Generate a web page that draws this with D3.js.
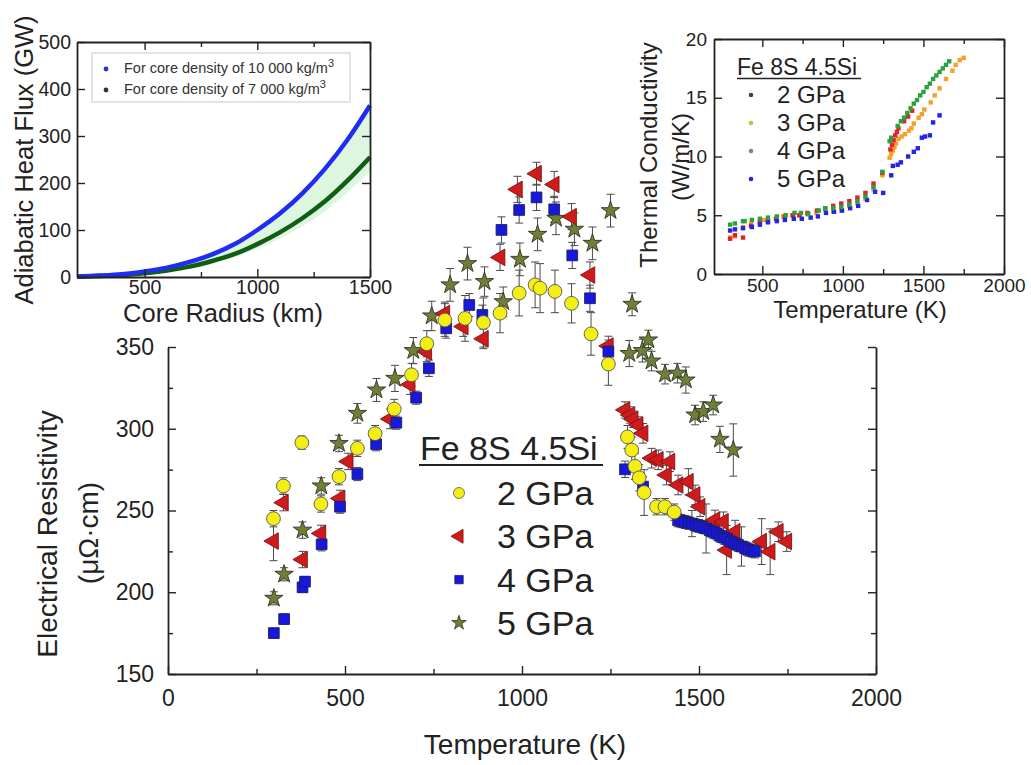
<!DOCTYPE html>
<html>
<head>
<meta charset="utf-8">
<script src="https://cdn.jsdelivr.net/npm/d3@7"></script>
<style>
  body { margin: 0; background: #fff; }
  svg { display: block; font-family: Arial, "Liberation Sans", sans-serif; }
</style>
</head>
<body>
<svg id="chart" width="1031" height="765"></svg>
<script>
// ---------- Electrical resistivity (main panel) ----------
const pressures = ["2 GPa", "3 GPa", "4 GPa", "5 GPa"];

const t2   = [298,326,378,432,483,535,585,639,688,731,782,839,891,938,992,1037,1051,1093,1140,1195,1244,1298,1310,1319,1331,1345,1380,1404,1430];
const rho2 = [245,265,291.5,254,270.7,288,297,312,333,352,366.5,367.5,365,370.7,383,388,386,384,376.7,358,339.6,295,287,277,270,261,252.3,252.3,249];
const err2 = [5,5,4,5,5,5,5,6,7,8,10,14,15,12,14,14,15,13,12,13,13,7,8,8,8,14,5,5,5];

const t3   = [298,326,380,432,486,509,627,684,731,782,834,891,938,987,1041,1091,1140,1192,1244,1291,1305,1314,1328,1342,1366,1385,1408,1418,1441,1470,1489,1503,1545,1569,1578,1602,1677,1701,1724,1748];
const rho3 = [231.3,254.8,220,236,257.4,280,306,327,347,370.5,362.5,355,404.8,446.4,456,449.4,429.7,394,350.6,311.5,308.4,305.8,302.3,297.2,282,281,271.7,279.9,265.6,267.6,259.5,252.3,244.2,243.1,225.8,237,231,224.8,237,231];
const err3 = [12,5,5,5,5,5,6,6,6,7,6,6,8,8,7,8,8,8,6,5,5,5,5,6,6,6,6,6,6,8,6,6,6,6,15,7,14,14,6,6];

const t4   = [299,328,380,387,434,486,535,588,645,701,737,786,851,888,942,992,1041,1091,1142,1192,1244,1291,1342,1441,1450,1460,1470,1480,1490,1500,1510,1520,1530,1540,1550,1560,1570,1580,1590,1600,1610,1620,1630,1640,1650,1658];
const rho4 = [175,183.6,203,206.5,229.3,252.3,272.3,290.5,303.7,319,337,361.4,375.7,369.6,421.6,433.8,441.5,434.2,406,379.8,347.2,275.2,264.6,244,243.5,243,242.5,242,241,240.5,240,239,238,237,236,234.5,233.5,232.5,231,230,229,228,227,226,225.5,225];
const err4 = [3,3,3,3,4,4,4,4,4,4,5,6,7,6,8,8,8,8,8,8,7,5,6,4,4,4,4,8,4,4,4,15,4,4,4,4,4,4,4,4,4,12,4,4,4,4];

const t5   = [299,328,380,433,483,535,589,641,693,745,797,846,894,947,994,1044,1096,1148,1199,1250,1303,1311,1340,1357,1366,1404,1439,1463,1489,1512,1540,1559,1597];
const rho5 = [196.3,211,238,265,291,309.4,323.7,330.8,347.8,369,388,401,390,377.7,403.6,418.9,428.7,422,413.4,433.4,346,376.1,347.8,354.3,341.4,333.4,334,329.8,308.4,310.5,314.5,293.5,287];
const err5 = [4,4,5,5,5,6,7,8,8,9,10,10,9,9,10,10,10,10,10,10,8,7,7,6,6,6,6,8,6,6,6,8,16];

const mainXTicks = [0, 500, 1000, 1500, 2000];
const mainXMinor = [250, 750, 1250, 1750];
const mainYTicks = [150, 200, 250, 300, 350];
const mainYMinor = [175, 225, 275, 325];

// ---------- Thermal conductivity (upper right panel) ----------
const kT2 = [300,330,380,430,485,535,585,640,690,730,780,840,890,940,990,1040,1090,1140,1190,1245,1295,1305,1315,1325,1335,1345,1380,1405,1430];
const kV2 = [3.0,3.3,3.1,4.1,4.4,4.5,4.7,4.9,5.0,5.0,5.2,5.4,5.6,5.8,6.0,6.2,6.5,6.9,7.7,8.6,10.6,11.0,11.4,11.8,12.1,12.4,13.0,13.4,13.9];
const kT3 = [300,330,380,430,485,510,630,685,730,780,835,890,940,990,1040,1090,1140,1190,1245,1290,1300,1310,1320,1330,1345,1365,1385,1410,1425,1440,1470,1490,1505,1545,1570,1600,1640,1680,1700,1725,1750];
const kV3 = [3.1,3.2,4.0,4.3,4.5,4.6,4.9,5.0,5.0,5.1,5.2,5.5,5.3,5.4,5.8,6.0,6.4,7.2,8.4,9.9,10.2,10.5,10.8,11.1,11.5,11.7,11.9,12.2,12.4,12.8,13.3,13.6,14.0,14.6,15.2,15.8,16.6,17.3,17.8,18.2,18.4];
const kT4 = [300,330,380,390,435,485,535,590,645,700,740,785,850,890,940,990,1040,1090,1140,1190,1245,1290,1300,1340,1360,1380,1400,1420,1440,1460,1480,1500,1520,1540,1560,1580,1600,1620,1640,1660];
const kV4 = [4.2,4.3,4.5,4.5,4.6,4.7,4.8,4.9,5.0,5.2,5.2,5.1,5.4,5.6,5.6,5.7,5.9,6.2,6.6,7.4,8.7,11.3,11.6,12.6,13.0,13.3,13.7,14.1,14.5,14.8,15.2,15.5,15.9,16.2,16.6,16.9,17.2,17.5,17.8,18.1];
const kT5 = [300,330,380,435,485,535,590,640,695,745,800,845,895,945,995,1045,1095,1150,1200,1250,1300,1310,1340,1360,1405,1440,1465,1490,1510,1540,1560,1600];
const kV5 = [3.7,3.8,3.9,4.0,4.2,4.4,4.5,4.6,4.7,4.7,4.8,4.9,5.2,5.3,5.4,5.6,5.8,6.3,7.0,6.9,8.4,9.2,9.3,9.5,10.0,10.4,10.7,11.6,11.7,11.8,12.9,13.5];

const kXTicks = [500, 1000, 1500, 2000];
const kXMinor = [750, 1250, 1750];
const kYTicks = [0, 5, 10, 15, 20];

// ---------- Adiabatic heat flux (upper left panel) ----------
const radius    = [200,300,400,500,600,700,800,900,1000,1100,1200,1300,1400,1500];
const flux10000 = [1,3,6,12,20,32,48,70,100,135,178,230,292,365];
const flux7000  = [1,2,4,8,14,22,34,49,70,95,125,161,205,255];
const bandLow   = [0,1,3,7,12,19,29,42,60,82,108,140,180,225];
const bandHigh  = [1,3,6,12,20,31,47,68,97,131,173,224,285,358];

const hXTicks = [500, 1000, 1500];
const hXMinor = [750, 1250];
const hYTicks = [0, 100, 200, 300, 400, 500];

// ---------------------------------------------------------
const svg = d3.select("#chart");
const ink = "#222";

function styleAxis(g, fs) {
  g.selectAll(".domain").attr("stroke", ink).attr("stroke-width", 1.8);
  g.selectAll(".tick line").attr("stroke", ink).attr("stroke-width", 1.4);
  g.selectAll(".tick text").attr("fill", ink).attr("font-size", fs).attr("font-family", "Arial, 'Liberation Sans', sans-serif");
}

function frame(x, y, opts) {
  const { xt, xm, yt, ym, fs, padX, padY, top } = opts;
  const [x0, x1] = x.range();
  const [y0, y1] = y.range();
  const gx = svg.append("g").attr("transform", `translate(0,${y0})`)
    .call(d3.axisBottom(x).tickValues(xt).tickSize(-8).tickSizeOuter(0).tickPadding(padX).tickFormat(d3.format("d")));
  styleAxis(gx, fs);
  const gxm = svg.append("g").attr("transform", `translate(0,${y0})`)
    .call(d3.axisBottom(x).tickValues(xm).tickSize(-5).tickFormat(""));
  gxm.select(".domain").remove(); styleAxis(gxm, fs);

  const gy = svg.append("g").attr("transform", `translate(${x0},0)`)
    .call(d3.axisLeft(y).tickValues(yt).tickSize(-8).tickSizeOuter(0).tickPadding(padY).tickFormat(d3.format("d")));
  styleAxis(gy, fs);
  if (ym) {
    const gym = svg.append("g").attr("transform", `translate(${x0},0)`)
      .call(d3.axisLeft(y).tickValues(ym).tickSize(-5).tickFormat(""));
    gym.select(".domain").remove(); styleAxis(gym, fs);
  }
  const gr = svg.append("g").attr("transform", `translate(${x1},0)`)
    .call(d3.axisRight(y).tickValues(yt).tickSize(-8).tickSizeOuter(0).tickFormat(""));
  styleAxis(gr, fs);
  if (ym) {
    const grm = svg.append("g").attr("transform", `translate(${x1},0)`)
      .call(d3.axisRight(y).tickValues(ym).tickSize(-5).tickFormat(""));
    grm.select(".domain").remove(); styleAxis(grm, fs);
  }
  if (top) {
    const gt = svg.append("g").attr("transform", `translate(0,${y1})`)
      .call(d3.axisTop(x).tickValues(xt).tickSize(-8).tickSizeOuter(0).tickFormat(""));
    styleAxis(gt, fs);
    const gtm = svg.append("g").attr("transform", `translate(0,${y1})`)
      .call(d3.axisTop(x).tickValues(xm).tickSize(-5).tickFormat(""));
    gtm.select(".domain").remove(); styleAxis(gtm, fs);
  }
}

// ===== Heat flux panel =====
const hx = d3.scaleLinear().domain([200, 1500]).range([77, 370]);
const hy = d3.scaleLinear().domain([0, 500]).range([277, 42]);

const hBand = radius.map((r, i) => ({ r, lo: bandLow[i], hi: bandHigh[i] }));
svg.append("path").datum(hBand)
  .attr("fill", "#a6e8ae").attr("fill-opacity", 0.38)
  .attr("d", d3.area().x(d => hx(d.r)).y0(d => hy(d.lo)).y1(d => hy(d.hi)).curve(d3.curveMonotoneX));

const lineH = d3.line().x(d => hx(d[0])).y(d => hy(d[1])).curve(d3.curveMonotoneX);
svg.append("path").datum(radius.map((r, i) => [r, flux7000[i]]))
  .attr("fill", "none").attr("stroke", "#0f5e12").attr("stroke-width", 4.5).attr("d", lineH);
svg.append("path").datum(radius.map((r, i) => [r, flux10000[i]]))
  .attr("fill", "none").attr("stroke", "#1f2cf2").attr("stroke-width", 4.5).attr("d", lineH);

frame(hx, hy, { xt: hXTicks, xm: hXMinor, yt: hYTicks, ym: null, fs: 19.5, padX: 3, padY: 6, top: true });

// legend box
const hLeg = svg.append("g");
hLeg.append("rect").attr("x", 92).attr("y", 53).attr("width", 258).attr("height", 49)
  .attr("fill", "#fff").attr("stroke", "#c8c8c8").attr("stroke-width", 1);
[["For core density of 10 000 kg/m", "#2430e0", 73], ["For core density of 7 000 kg/m", "#2a3a2a", 94]].forEach(([txt, col, yb]) => {
  hLeg.append("circle").attr("cx", 106).attr("cy", yb - 4).attr("r", 2.4).attr("fill", col);
  const t = hLeg.append("text").attr("x", 124).attr("y", yb).attr("font-size", 14.5).attr("fill", "#333").text(txt);
  t.append("tspan").attr("dy", -6).attr("font-size", 11).text("3");
});

svg.append("text").attr("transform", "translate(33,160) rotate(-90)")
  .attr("text-anchor", "middle").attr("font-size", 25.5).attr("fill", ink).text("Adiabatic Heat Flux (GW)");
svg.append("text").attr("x", 223).attr("y", 322)
  .attr("text-anchor", "middle").attr("font-size", 25.5).attr("fill", ink).text("Core Radius (km)");

// ===== Thermal conductivity panel =====
const tx = d3.scaleLinear().domain([200, 2000]).range([714, 1004]);
const ty = d3.scaleLinear().domain([0, 20]).range([274, 39]);

frame(tx, ty, { xt: kXTicks, xm: kXMinor, yt: kYTicks, ym: null, fs: 19, padX: 5, padY: 7, top: true });

const kSeries = [
  { T: kT3, V: kV3, c: "#f5a028" },
  { T: kT2, V: kV2, c: "#e2222a" },
  { T: kT5, V: kV5, c: "#2424e6" },
  { T: kT4, V: kV4, c: "#2aa040" }
];
kSeries.forEach(s => {
  svg.append("g").selectAll("rect").data(s.T.map((t, i) => [t, s.V[i]])).join("rect")
    .attr("x", d => tx(d[0]) - 2.2).attr("y", d => ty(d[1]) - 2.2)
    .attr("width", 4.4).attr("height", 4.4).attr("fill", s.c);
});

const kLeg = svg.append("g");
kLeg.append("text").attr("x", 737).attr("y", 75).attr("font-size", 23).attr("fill", ink).text("Fe 8S 4.5Si");
kLeg.append("line").attr("x1", 737).attr("x2", 861).attr("y1", 78.5).attr("y2", 78.5).attr("stroke", ink).attr("stroke-width", 1.5);
const kLegCols = ["#4a3e38", "#c7c040", "#7d8a76", "#2424d8"];
pressures.forEach((p, i) => {
  const yb = 103 + i * 28;
  kLeg.append("circle").attr("cx", 751).attr("cy", yb - 8).attr("r", 2.3).attr("fill", kLegCols[i]);
  kLeg.append("text").attr("x", 777).attr("y", yb).attr("font-size", 24).attr("fill", ink).text(p);
});

svg.append("text").attr("transform", "translate(657,155) rotate(-90)")
  .attr("text-anchor", "middle").attr("font-size", 24).attr("fill", ink).text("Thermal Conductivity");
svg.append("text").attr("transform", "translate(689,157) rotate(-90)")
  .attr("text-anchor", "middle").attr("font-size", 24).attr("fill", ink).text("(W/m/K)");
svg.append("text").attr("x", 860).attr("y", 318)
  .attr("text-anchor", "middle").attr("font-size", 24).attr("fill", ink).text("Temperature (K)");

// ===== Main resistivity panel =====
const mx = d3.scaleLinear().domain([0, 2000]).range([168, 876]);
const my = d3.scaleLinear().domain([150, 350]).range([674, 347]);

frame(mx, my, { xt: mainXTicks, xm: mainXMinor, yt: mainYTicks, ym: mainYMinor, fs: 23, padX: 16, padY: 14, top: false });

const sym = {
  circle:   { path: d3.symbol(d3.symbolCircle, 150)(),  rot: 0,   fill: "#f3ee14", stroke: "#555" },
  triangle: { path: d3.symbol(d3.symbolTriangle, 120)(), rot: -90, fill: "#cf1b1b", stroke: "#7a1414" },
  square:   { path: d3.symbol(d3.symbolSquare, 115)(),  rot: 0,   fill: "#1818dc", stroke: "#1c1c66" },
  star:     { path: d3.symbol(d3.symbolStar, 105)(),    rot: 0,   fill: "#6f7f38", stroke: "#2e3320" }
};

const mainSeries = [
  { T: t5, R: rho5, E: err5, s: sym.star },
  { T: t3, R: rho3, E: err3, s: sym.triangle },
  { T: t4, R: rho4, E: err4, s: sym.square },
  { T: t2, R: rho2, E: err2, s: sym.circle }
];

// error bars first, markers on top
const eg = svg.append("g").attr("stroke", "#4a4a4a").attr("stroke-width", 1);
mainSeries.forEach(s => {
  s.T.forEach((t, i) => {
    const x = mx(t), yl = my(s.R[i] - s.E[i]), yh = my(s.R[i] + s.E[i]);
    eg.append("line").attr("x1", x).attr("x2", x).attr("y1", yl).attr("y2", yh);
    eg.append("line").attr("x1", x - 4).attr("x2", x + 4).attr("y1", yl).attr("y2", yl);
    eg.append("line").attr("x1", x - 4).attr("x2", x + 4).attr("y1", yh).attr("y2", yh);
  });
});
mainSeries.forEach(s => {
  svg.append("g").selectAll("path").data(s.T.map((t, i) => [t, s.R[i]])).join("path")
    .attr("d", s.s.path)
    .attr("transform", d => `translate(${mx(d[0])},${my(d[1])}) rotate(${s.s.rot})`)
    .attr("fill", s.s.fill).attr("stroke", s.s.stroke).attr("stroke-width", 0.9);
});

// legend
const mLeg = svg.append("g");
mLeg.append("text").attr("x", 420).attr("y", 460).attr("font-size", 34).attr("fill", ink).text("Fe 8S 4.5Si");
mLeg.append("line").attr("x1", 419).attr("x2", 603).attr("y1", 465).attr("y2", 465).attr("stroke", ink).attr("stroke-width", 2);
const legSizes = [95, 85, 70, 65];
const legShapes = [d3.symbolCircle, d3.symbolTriangle, d3.symbolSquare, d3.symbolStar];
const legStyles = [sym.circle, sym.triangle, sym.square, sym.star];
pressures.forEach((p, i) => {
  const yb = 505 + i * 43.3;
  mLeg.append("path").attr("d", d3.symbol(legShapes[i], legSizes[i])())
    .attr("transform", `translate(459,${yb - 12}) rotate(${legStyles[i].rot})`)
    .attr("fill", legStyles[i].fill).attr("stroke", legStyles[i].stroke).attr("stroke-width", 0.8);
  mLeg.append("text").attr("x", 497).attr("y", yb).attr("font-size", 34).attr("fill", ink).text(p);
});

svg.append("text").attr("transform", "translate(57,534) rotate(-90)")
  .attr("text-anchor", "middle").attr("font-size", 28).attr("fill", ink).text("Electrical Resistivity");
svg.append("text").attr("transform", "translate(98,533) rotate(-90)")
  .attr("text-anchor", "middle").attr("font-size", 28).attr("fill", ink).text("(μΩ·cm)");
svg.append("text").attr("x", 525).attr("y", 754)
  .attr("text-anchor", "middle").attr("font-size", 28).attr("fill", ink).text("Temperature (K)");
</script>
</body>
</html>
